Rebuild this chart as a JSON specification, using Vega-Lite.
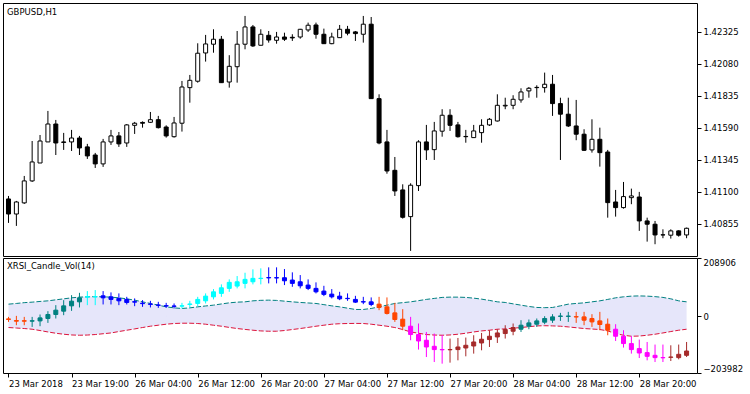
{
"$schema":"https://vega.github.io/schema/vega-lite/v6.json",
"padding":{"left":2,"top":2,"right":0,"bottom":0},
"background":"white",
"spacing":0,
"config":{"view":{"stroke":"black","strokeWidth":1},"font":"DejaVu Sans",
"axis":{"labelFont":"DejaVu Sans","labelFontSize":8.5,"labelColor":"black","tickColor":"black","tickSize":4,"labelPadding":2,"domain":false,"grid":false},
"title":{"font":"DejaVu Sans","fontSize":8.5,"fontWeight":"normal","color":"black","anchor":"start","frame":"group","baseline":"bottom","offset":-13,"dx":4}},
"datasets":{"bars":[
{"i":0,"o":1.41046,"h":1.41069,"l":1.40863,"c":1.40931,"xo":-9700,"xh":-2500,"xl":-20500,"xc":-11900,"col":"orange","up":43200,"lo":-40700},
{"i":1,"o":1.40931,"h":1.41031,"l":1.40840,"c":1.41023,"xo":-15500,"xh":1100,"xl":-32400,"xc":-18000,"col":"orange","up":45700,"lo":-42500},
{"i":2,"o":1.41016,"h":1.41222,"l":1.41008,"c":1.41184,"xo":-16200,"xh":-2500,"xl":-32400,"xc":-18000,"col":"orange","up":48600,"lo":-44300},
{"i":3,"o":1.41184,"h":1.41489,"l":1.41176,"c":1.41329,"xo":-18000,"xh":-2500,"xl":-38500,"xc":-16200,"col":"teal","up":50400,"lo":-46800},
{"i":4,"o":1.41321,"h":1.41535,"l":1.41321,"c":1.41489,"xo":-16900,"xh":6100,"xl":-36000,"xc":-6100,"col":"teal","up":52900,"lo":-51500},
{"i":5,"o":1.41482,"h":1.41719,"l":1.41482,"c":1.41619,"xo":-8300,"xh":18000,"xl":-24100,"xc":6100,"col":"teal","up":55100,"lo":-56600},
{"i":6,"o":1.41619,"h":1.41650,"l":1.41382,"c":1.41474,"xo":6100,"xh":39600,"xl":-8300,"xc":21600,"col":"teal","up":58700,"lo":-61200},
{"i":7,"o":1.41482,"h":1.41551,"l":1.41421,"c":1.41478,"xo":18000,"xh":57600,"xl":3600,"xc":37100,"col":"teal","up":62300,"lo":-64800},
{"i":8,"o":1.41482,"h":1.41574,"l":1.41413,"c":1.41512,"xo":37100,"xh":75600,"xl":19100,"xc":54000,"col":"teal","up":65900,"lo":-67400},
{"i":9,"o":1.41512,"h":1.41528,"l":1.41382,"c":1.41436,"xo":51500,"xh":83900,"xl":31300,"xc":65900,"col":"teal","up":68400,"lo":-68400},
{"i":10,"o":1.41444,"h":1.41467,"l":1.41352,"c":1.41375,"xo":68400,"xh":90100,"xl":39600,"xc":70200,"col":"cyan","up":69500,"lo":-67700},
{"i":11,"o":1.41382,"h":1.41398,"l":1.41283,"c":1.41314,"xo":69200,"xh":93700,"xl":39600,"xc":70200,"col":"cyan","up":70200,"lo":-65900},
{"i":12,"o":1.41314,"h":1.41505,"l":1.41291,"c":1.41482,"xo":73100,"xh":90100,"xl":42100,"xc":65900,"col":"blue","up":69500,"lo":-63000},
{"i":13,"o":1.41482,"h":1.41574,"l":1.41459,"c":1.41528,"xo":69500,"xh":85400,"xl":42100,"xc":60200,"col":"blue","up":68400,"lo":-60200},
{"i":14,"o":1.41528,"h":1.41558,"l":1.41444,"c":1.41467,"xo":63800,"xh":81800,"xl":39600,"xc":55100,"col":"blue","up":65900,"lo":-55100},
{"i":15,"o":1.41474,"h":1.41619,"l":1.41444,"c":1.41612,"xo":60200,"xh":69500,"xl":42100,"xc":49300,"col":"blue","up":62300,"lo":-50400},
{"i":16,"o":1.41609,"h":1.41635,"l":1.41543,"c":1.41625,"xo":52200,"xh":63800,"xl":36000,"xc":50400,"col":"blue","up":57600,"lo":-45700},
{"i":17,"o":1.41631,"h":1.41639,"l":1.41591,"c":1.41625,"xo":46800,"xh":57600,"xl":33500,"xc":45000,"col":"blue","up":51500,"lo":-40700},
{"i":18,"o":1.41632,"h":1.41711,"l":1.41627,"c":1.41652,"xo":43900,"xh":55100,"xl":31300,"xc":42500,"col":"blue","up":45700,"lo":-36000},
{"i":19,"o":1.41652,"h":1.41681,"l":1.41585,"c":1.41591,"xo":40300,"xh":51500,"xl":29900,"xc":38900,"col":"blue","up":39600,"lo":-32400},
{"i":20,"o":1.41596,"h":1.41609,"l":1.41515,"c":1.41528,"xo":37800,"xh":47900,"xl":29900,"xc":36400,"col":"blue","up":33500,"lo":-28800},
{"i":21,"o":1.41522,"h":1.41673,"l":1.41515,"c":1.41627,"xo":36700,"xh":45700,"xl":27700,"xc":35300,"col":"blue","up":29900,"lo":-26300},
{"i":22,"o":1.41625,"h":1.41948,"l":1.41561,"c":1.41902,"xo":36000,"xh":47900,"xl":27700,"xc":37500,"col":"cyan","up":27700,"lo":-25200},
{"i":23,"o":1.41897,"h":1.41994,"l":1.41782,"c":1.41953,"xo":42100,"xh":55100,"xl":31300,"xc":43900,"col":"cyan","up":29900,"lo":-25200},
{"i":24,"o":1.41946,"h":1.42236,"l":1.41935,"c":1.42160,"xo":45700,"xh":69500,"xl":36000,"xc":60200,"col":"cyan","up":33500,"lo":-26300},
{"i":25,"o":1.42162,"h":1.42300,"l":1.42096,"c":1.42231,"xo":55100,"xh":81800,"xl":45700,"xc":72000,"col":"cyan","up":36700,"lo":-28800},
{"i":26,"o":1.42229,"h":1.42343,"l":1.42164,"c":1.42267,"xo":69500,"xh":97300,"xl":60200,"xc":87500,"col":"cyan","up":39600,"lo":-32400},
{"i":27,"o":1.42267,"h":1.42292,"l":1.41933,"c":1.41935,"xo":81800,"xh":114200,"xl":69500,"xc":101900,"col":"cyan","up":43900,"lo":-36000},
{"i":28,"o":1.41940,"h":1.42145,"l":1.41897,"c":1.42060,"xo":99800,"xh":132200,"xl":87500,"xc":121400,"col":"cyan","up":47900,"lo":-40300},
{"i":29,"o":1.42057,"h":1.42330,"l":1.41935,"c":1.42229,"xo":108100,"xh":144100,"xl":99800,"xc":123500,"col":"cyan","up":50400,"lo":-44300},
{"i":30,"o":1.42229,"h":1.42445,"l":1.42190,"c":1.42361,"xo":117800,"xh":156000,"xl":99800,"xc":132200,"col":"cyan","up":51500,"lo":-47500},
{"i":31,"o":1.42361,"h":1.42376,"l":1.42208,"c":1.42216,"xo":123500,"xh":168200,"xl":114200,"xc":135800,"col":"cyan","up":55100,"lo":-50400},
{"i":32,"o":1.42221,"h":1.42343,"l":1.42220,"c":1.42305,"xo":135100,"xh":171800,"xl":114200,"xc":136200,"col":"cyan","up":56900,"lo":-52900},
{"i":33,"o":1.42297,"h":1.42330,"l":1.42241,"c":1.42261,"xo":138700,"xh":175400,"xl":117800,"xc":137600,"col":"blue","up":57600,"lo":-54000},
{"i":34,"o":1.42259,"h":1.42323,"l":1.42233,"c":1.42284,"xo":138300,"xh":175400,"xl":117800,"xc":137200,"col":"blue","up":56600,"lo":-54000},
{"i":35,"o":1.42284,"h":1.42317,"l":1.42254,"c":1.42267,"xo":138000,"xh":169300,"xl":111700,"xc":127100,"col":"blue","up":54000,"lo":-51500},
{"i":36,"o":1.42282,"h":1.42305,"l":1.42254,"c":1.42277,"xo":129700,"xh":157400,"xl":105500,"xc":117800,"col":"blue","up":51500,"lo":-47900},
{"i":37,"o":1.42284,"h":1.42346,"l":1.42271,"c":1.42343,"xo":123500,"xh":147700,"xl":99800,"xc":109100,"col":"blue","up":49300,"lo":-44300},
{"i":38,"o":1.42338,"h":1.42394,"l":1.42323,"c":1.42374,"xo":111700,"xh":132200,"xl":93700,"xc":99800,"col":"blue","up":47500,"lo":-40300},
{"i":39,"o":1.42376,"h":1.42394,"l":1.42271,"c":1.42305,"xo":99800,"xh":121400,"xl":81800,"xc":87500,"col":"blue","up":45700,"lo":-36000},
{"i":40,"o":1.42305,"h":1.42348,"l":1.42231,"c":1.42233,"xo":90100,"xh":109100,"xl":72000,"xc":78200,"col":"blue","up":41400,"lo":-32400},
{"i":41,"o":1.42233,"h":1.42317,"l":1.42229,"c":1.42284,"xo":79200,"xh":97300,"xl":63800,"xc":69500,"col":"blue","up":37100,"lo":-28800},
{"i":42,"o":1.42279,"h":1.42376,"l":1.42277,"c":1.42343,"xo":72000,"xh":87500,"xl":57600,"xc":62300,"col":"blue","up":33500,"lo":-27000},
{"i":43,"o":1.42343,"h":1.42369,"l":1.42297,"c":1.42313,"xo":64100,"xh":81800,"xl":55100,"xc":63000,"col":"blue","up":28800,"lo":-26300},
{"i":44,"o":1.42323,"h":1.42330,"l":1.42254,"c":1.42310,"xo":60200,"xh":73100,"xl":47900,"xc":50400,"col":"blue","up":24100,"lo":-25900},
{"i":45,"o":1.42305,"h":1.42445,"l":1.42241,"c":1.42382,"xo":52200,"xh":69500,"xl":43200,"xc":50800,"col":"blue","up":24100,"lo":-26300},
{"i":46,"o":1.42382,"h":1.42437,"l":1.41813,"c":1.41813,"xo":51500,"xh":67400,"xl":36000,"xc":42100,"col":"blue","up":27700,"lo":-28800},
{"i":47,"o":1.41813,"h":1.41846,"l":1.41464,"c":1.41474,"xo":43200,"xh":69500,"xl":21600,"xc":31300,"col":"orange","up":33500,"lo":-32400},
{"i":48,"o":1.41482,"h":1.41574,"l":1.41239,"c":1.41260,"xo":33500,"xh":67400,"xl":6100,"xc":9700,"col":"orange","up":39600,"lo":-36000},
{"i":49,"o":1.41265,"h":1.41367,"l":1.41069,"c":1.41107,"xo":11900,"xh":47900,"xl":-20500,"xc":-11900,"col":"orange","up":45700,"lo":-40700},
{"i":50,"o":1.41115,"h":1.41158,"l":1.40896,"c":1.40906,"xo":-10800,"xh":25200,"xl":-50400,"xc":-36000,"col":"orange","up":48600,"lo":-47900},
{"i":51,"o":1.40911,"h":1.41166,"l":1.40649,"c":1.41151,"xo":-36000,"xh":-2500,"xl":-86400,"xc":-65900,"col":"magenta","up":51500,"lo":-56600},
{"i":52,"o":1.41148,"h":1.41495,"l":1.41107,"c":1.41482,"xo":-65900,"xh":-26300,"xl":-119900,"xc":-89000,"col":"magenta","up":55800,"lo":-61200},
{"i":53,"o":1.41482,"h":1.41612,"l":1.41344,"c":1.41421,"xo":-86400,"xh":-56600,"xl":-146600,"xc":-110600,"col":"magenta","up":60200,"lo":-65900},
{"i":54,"o":1.41423,"h":1.41635,"l":1.41344,"c":1.41566,"xo":-108100,"xh":-62300,"xl":-164600,"xc":-119900,"col":"magenta","up":63800,"lo":-67700},
{"i":55,"o":1.41564,"h":1.41732,"l":1.41522,"c":1.41686,"xo":-119600,"xh":-68400,"xl":-170400,"xc":-120700,"col":"magenta","up":67400,"lo":-68400},
{"i":56,"o":1.41686,"h":1.41732,"l":1.41566,"c":1.41609,"xo":-120700,"xh":-80300,"xl":-166800,"xc":-119600,"col":"brown","up":68400,"lo":-67400},
{"i":57,"o":1.41612,"h":1.41635,"l":1.41515,"c":1.41522,"xo":-119900,"xh":-78200,"xl":-158500,"xc":-110600,"col":"brown","up":68400,"lo":-64800},
{"i":58,"o":1.41524,"h":1.41574,"l":1.41476,"c":1.41522,"xo":-114200,"xh":-76700,"xl":-144100,"xc":-104500,"col":"brown","up":67400,"lo":-61200},
{"i":59,"o":1.41515,"h":1.41612,"l":1.41512,"c":1.41566,"xo":-107000,"xh":-68400,"xl":-134400,"xc":-92600,"col":"brown","up":64800,"lo":-56600},
{"i":60,"o":1.41553,"h":1.41655,"l":1.41476,"c":1.41609,"xo":-96200,"xh":-60200,"xl":-122500,"xc":-82800,"col":"brown","up":61200,"lo":-52900},
{"i":61,"o":1.41612,"h":1.41665,"l":1.41604,"c":1.41655,"xo":-83900,"xh":-50400,"xl":-110600,"xc":-72000,"col":"brown","up":56600,"lo":-50400},
{"i":62,"o":1.41642,"h":1.41846,"l":1.41638,"c":1.41762,"xo":-74600,"xh":-46800,"xl":-96200,"xc":-60200,"col":"brown","up":51500,"lo":-46800},
{"i":63,"o":1.41757,"h":1.41820,"l":1.41732,"c":1.41762,"xo":-62300,"xh":-32400,"xl":-80300,"xc":-47900,"col":"brown","up":49300,"lo":-45700},
{"i":64,"o":1.41762,"h":1.41839,"l":1.41732,"c":1.41808,"xo":-54000,"xh":-26300,"xl":-68400,"xc":-40700,"col":"brown","up":44300,"lo":-43200},
{"i":65,"o":1.41803,"h":1.41892,"l":1.41782,"c":1.41864,"xo":-46800,"xh":-14400,"xl":-56600,"xc":-32400,"col":"teal","up":39600,"lo":-40700},
{"i":66,"o":1.41872,"h":1.41902,"l":1.41820,"c":1.41892,"xo":-36000,"xh":-11900,"xl":-46800,"xc":-24100,"col":"teal","up":34900,"lo":-37800},
{"i":67,"o":1.41897,"h":1.41915,"l":1.41820,"c":1.41899,"xo":-28800,"xh":-8300,"xl":-38500,"xc":-16900,"col":"teal","up":31300,"lo":-34900},
{"i":68,"o":1.41897,"h":1.42012,"l":1.41859,"c":1.41923,"xo":-21600,"xh":0,"xl":-28800,"xc":-8300,"col":"teal","up":30600,"lo":-34200},
{"i":69,"o":1.41923,"h":1.41994,"l":1.41681,"c":1.41775,"xo":-14400,"xh":7200,"xl":-24100,"xc":-2500,"col":"teal","up":31300,"lo":-34900},
{"i":70,"o":1.41775,"h":1.41820,"l":1.41344,"c":1.41694,"xo":-700,"xh":11900,"xl":-16900,"xc":700,"col":"teal","up":37100,"lo":-36000},
{"i":71,"o":1.41694,"h":1.41820,"l":1.41596,"c":1.41604,"xo":-700,"xh":15500,"xl":-20500,"xc":400,"col":"teal","up":43200,"lo":-38500},
{"i":72,"o":1.41604,"h":1.41803,"l":1.41495,"c":1.41541,"xo":-1800,"xh":15500,"xl":-24100,"xc":-2900,"col":"orange","up":45700,"lo":-41400},
{"i":73,"o":1.41541,"h":1.41579,"l":1.41413,"c":1.41418,"xo":-2500,"xh":15500,"xl":-32400,"xc":-14400,"col":"orange","up":47900,"lo":-44300},
{"i":74,"o":1.41421,"h":1.41655,"l":1.41400,"c":1.41502,"xo":-8300,"xh":7200,"xl":-38500,"xc":-20500,"col":"orange","up":51500,"lo":-46100},
{"i":75,"o":1.41502,"h":1.41591,"l":1.41293,"c":1.41400,"xo":-16900,"xh":15500,"xl":-50400,"xc":-29900,"col":"orange","up":55100,"lo":-47900},
{"i":76,"o":1.41405,"h":1.41421,"l":1.40903,"c":1.41018,"xo":-28800,"xh":-8300,"xl":-68400,"xc":-50400,"col":"orange","up":60200,"lo":-52900},
{"i":77,"o":1.41023,"h":1.41115,"l":1.40911,"c":1.40980,"xo":-46800,"xh":-28800,"xl":-89000,"xc":-72000,"col":"magenta","up":65900,"lo":-62300},
{"i":78,"o":1.40980,"h":1.41176,"l":1.40972,"c":1.41064,"xo":-72000,"xh":-50400,"xl":-112700,"xc":-98300,"col":"magenta","up":69500,"lo":-68400},
{"i":79,"o":1.41056,"h":1.41125,"l":1.41006,"c":1.41069,"xo":-98300,"xh":-72000,"xl":-134400,"xc":-119900,"col":"magenta","up":72000,"lo":-72000},
{"i":80,"o":1.41061,"h":1.41100,"l":1.40802,"c":1.40878,"xo":-116300,"xh":-83900,"xl":-150200,"xc":-132200,"col":"magenta","up":72800,"lo":-71300},
{"i":81,"o":1.40878,"h":1.40903,"l":1.40720,"c":1.40853,"xo":-130800,"xh":-92600,"xl":-158500,"xc":-144100,"col":"magenta","up":72000,"lo":-68400},
{"i":82,"o":1.40853,"h":1.40878,"l":1.40700,"c":1.40771,"xo":-140500,"xh":-101900,"xl":-164600,"xc":-148800,"col":"magenta","up":70200,"lo":-64800},
{"i":83,"o":1.40772,"h":1.40814,"l":1.40746,"c":1.40771,"xo":-148400,"xh":-101900,"xl":-164600,"xc":-149500,"col":"magenta","up":67400,"lo":-60200},
{"i":84,"o":1.40769,"h":1.40814,"l":1.40743,"c":1.40802,"xo":-147700,"xh":-104500,"xl":-161000,"xc":-146600,"col":"brown","up":62300,"lo":-55100},
{"i":85,"o":1.40802,"h":1.40807,"l":1.40758,"c":1.40769,"xo":-148800,"xh":-101900,"xl":-154900,"xc":-136900,"col":"brown","up":55100,"lo":-50400},
{"i":86,"o":1.40771,"h":1.40827,"l":1.40746,"c":1.40822,"xo":-140500,"xh":-92600,"xl":-146600,"xc":-125000,"col":"brown","up":51500,"lo":-46800}
]},
"vconcat":[
{"width":694,"height":253,
"title":{"text":"GBPUSD,H1"},
"data":{"name":"bars"},
"encoding":{"x":{"field":"i","type":"quantitative","scale":{"domain":[-0.0625,86.6875],"nice":false,"zero":false},"axis":null}},
"layer":[
{"mark":{"type":"rule","color":"black","strokeWidth":1},
"encoding":{"y":{"field":"l","type":"quantitative","scale":{"domain":[1.4061,1.42544],"nice":false,"zero":false},
"axis":{"orient":"right","values":[1.40855,1.411,1.41345,1.4159,1.41835,1.4208,1.42325],"format":".5f","title":null}},
"y2":{"field":"h"}}},
{"mark":{"type":"bar","size":4,"stroke":"black","strokeWidth":1},
"encoding":{"y":{"field":"o","type":"quantitative"},"y2":{"field":"c"},
"fill":{"condition":{"test":"datum.c >= datum.o","value":"white"},"value":"black"}}}
]},
{"width":694,"height":115,
"title":{"text":"XRSI_Candle_Vol(14)"},
"data":{"name":"bars"},
"encoding":{"x":{"field":"i","type":"quantitative","scale":{"domain":[-0.0625,86.6875],"nice":false,"zero":false},
"axis":{"orient":"bottom","values":[0,8,16,24,32,40,48,56,64,72,80],"labelAlign":"left","labelFlush":false,"labelOverlap":false,"title":null,
"labelExpr":"['23 Mar 2018','23 Mar 19:00','26 Mar 04:00','26 Mar 12:00','26 Mar 20:00','27 Mar 04:00','27 Mar 12:00','27 Mar 20:00','28 Mar 04:00','28 Mar 12:00','28 Mar 20:00'][round(datum.value/8)]"}}},
"layer":[
{"mark":{"type":"area","color":"#E6E6FA","opacity":1},
"encoding":{"y":{"field":"lo","type":"quantitative","scale":{"domain":[-203982,208906],"nice":false,"zero":false},
"axis":{"orient":"right","values":[-203982,0,208906],"labelFlush":true,"format":"d","title":null}},
"y2":{"field":"up"}}},
{"mark":{"type":"line","color":"#008080","strokeWidth":1,"strokeDash":[5,2]},
"encoding":{"y":{"field":"up","type":"quantitative"}}},
{"mark":{"type":"line","color":"#DC143C","strokeWidth":1,"strokeDash":[5,2]},
"encoding":{"y":{"field":"lo","type":"quantitative"}}},
{"mark":{"type":"rule","color":"#0000FF","strokeWidth":1,"strokeDash":[3,2]},
"encoding":{"y":{"datum":0}}},
{"mark":{"type":"rule","strokeWidth":1},
"encoding":{"y":{"field":"xh","type":"quantitative"},"y2":{"field":"xl"},
"color":{"field":"col","type":"nominal","scale":{"domain":["orange","teal","cyan","blue","magenta","brown"],"range":["#FF4500","#008080","#00FFFF","#0000FF","#FF00FF","#A52A2A"]},"legend":null}}},
{"mark":{"type":"bar","size":4,"strokeWidth":1},
"encoding":{"y":{"field":"xo","type":"quantitative"},"y2":{"field":"xc"},
"fill":{"field":"col","type":"nominal","scale":{"domain":["orange","teal","cyan","blue","magenta","brown"],"range":["#FF4500","#008080","#00FFFF","#0000FF","#FF00FF","#A52A2A"]},"legend":null},
"stroke":{"field":"col","type":"nominal","scale":{"domain":["orange","teal","cyan","blue","magenta","brown"],"range":["#FF4500","#008080","#00FFFF","#0000FF","#FF00FF","#A52A2A"]},"legend":null}}}
]}
]}
